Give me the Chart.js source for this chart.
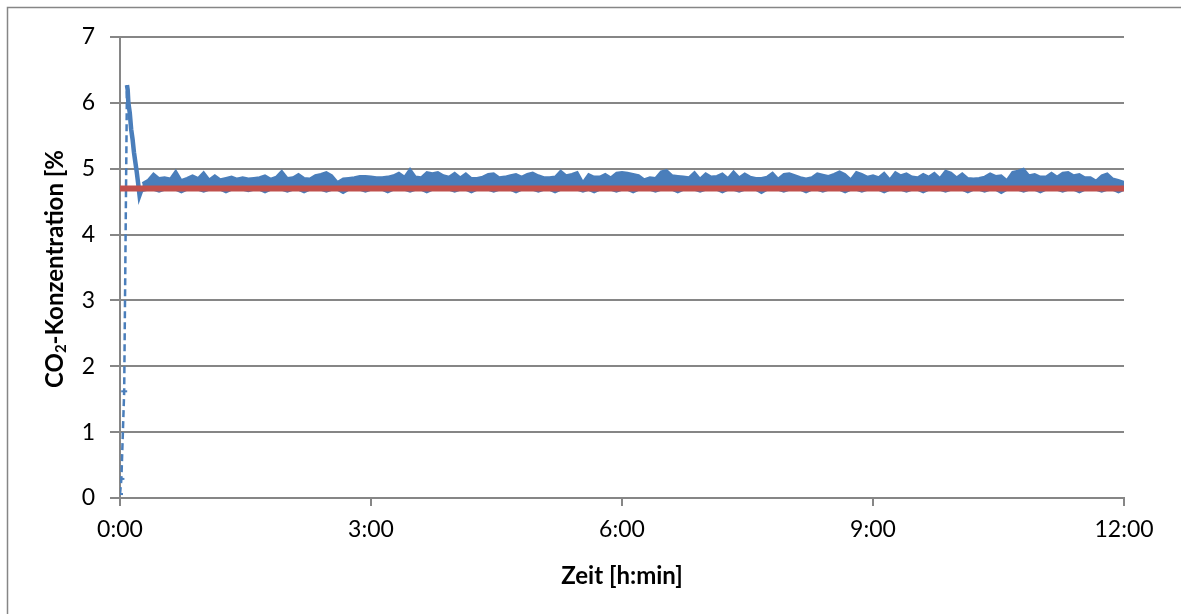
<!DOCTYPE html>
<html>
<head>
<meta charset="utf-8">
<script src="https://cdn.jsdelivr.net/npm/chart.js@4.4.1/dist/chart.umd.min.js"></script>
<style>
  html, body { margin: 0; padding: 0; background: #fff; }
  canvas { display: block; }
</style>
</head>
<body>
<canvas id="c" width="1181" height="614"></canvas>
<script>
// start-up phase: minutes and CO2 %
const startMin = [0, 1, 3, 5, 5.5, 6, 7, 8, 9, 10, 11, 12, 13, 14, 16];
const startVal = [0.06, 0.29, 1.62, 6.27, 6.2, 6.0, 5.85, 5.6, 5.45, 5.25, 5.1, 4.95, 4.78, 4.6, 4.72];

// steady phase, one reading every 4 min from 0:16 to 12:00 (upper / lower edge of the noisy trace)
const bandStart = 16, bandStep = 4;
const bandHigh = [
  4.78,4.83,4.93,4.86,4.87,4.85,4.97,4.83,4.86,4.90,4.86,4.95,4.84,4.90,4.84,4.86,4.88,4.85,4.87,4.85,
  4.86,4.87,4.90,4.85,4.88,4.97,4.86,4.87,
  4.92,4.86,4.85,4.90,4.92,4.95,4.90,4.80,4.85,4.86,4.87,4.89,4.89,4.88,4.87,4.87,4.88,4.90,4.94,4.88,
  5.00,4.88,4.87,4.95,4.93,4.95,4.90,4.88,4.94,4.87,4.93,4.86,4.86,4.88,4.92,4.93,4.87,4.88,4.90,4.92,
  4.88,4.92,4.94,4.90,4.87,4.87,4.88,4.97,4.90,4.92,4.95,4.80,4.92,
  4.88,4.88,4.92,4.87,4.94,4.95,4.94,4.92,4.90,4.84,4.87,4.86,4.96,4.98,4.90,4.89,4.88,4.87,4.95,4.85,
  4.93,4.88,4.89,4.93,4.86,4.96,4.87,4.93,4.88,4.86,4.86,4.88,4.94,4.85,4.92,4.93,4.90,4.87,4.85,4.87,
  4.93,4.91,4.89,4.92,4.96,4.92,4.84,4.95,4.92,4.88,
  4.90,4.87,4.94,4.84,4.95,4.90,4.93,4.88,4.87,4.92,4.88,4.94,4.86,4.97,4.94,4.87,4.93,4.86,4.85,4.86,
  4.88,4.93,4.89,4.90,4.83,4.95,4.97,5.00,4.90,4.92,4.88,4.88,4.94,4.88,4.94,4.95,4.90,4.92,4.87,4.87,
  4.82,4.90,4.93,4.85,4.83,4.80
];
const bandLow = [
  4.66,4.68,4.68,4.65,4.68,4.68,4.68,4.64,4.68,4.68,
  4.68,4.65,4.68,4.68,4.68,4.64,4.68,4.68,4.68,4.66,
  4.68,4.68,4.64,4.68,4.68,4.68,4.65,4.68,4.68,4.64,
  4.68,4.68,4.68,4.65,4.68,4.68,4.63,4.68,4.68,4.68,
  4.65,4.68,4.68,4.68,4.64,4.68,4.68,4.68,4.65,4.68,
  4.68,4.64,4.68,4.68,4.68,4.68,4.65,4.68,4.68,4.64,
  4.68,4.68,4.68,4.65,4.68,4.68,4.68,4.64,4.68,4.68,
  4.68,4.65,4.68,4.68,4.64,4.68,4.68,4.68,4.68,4.65,
  4.68,4.64,4.68,4.68,4.68,4.65,4.68,4.68,4.64,4.68,
  4.68,4.68,4.65,4.68,4.68,4.68,4.64,4.68,4.68,4.68,
  4.65,4.68,4.68,4.68,4.64,4.68,4.68,4.65,4.68,4.68,
  4.68,4.63,4.68,4.68,4.68,4.65,4.68,4.68,4.68,4.64,
  4.68,4.68,4.65,4.68,4.68,4.68,4.64,4.68,4.68,4.65,
  4.68,4.68,4.68,4.64,4.68,4.68,4.68,4.65,4.68,4.68,
  4.64,4.68,4.68,4.68,4.65,4.68,4.68,4.68,4.64,4.68,
  4.68,4.65,4.68,4.68,4.63,4.68,4.68,4.68,4.65,4.68,
  4.68,4.64,4.68,4.68,4.68,4.65,4.68,4.68,4.64,4.68,
  4.68,4.68,4.65,4.68,4.68,4.64,4.68
];

// set point
const refMin = [0, 720];
const refVal = [4.7, 4.7];

const xTicks = [0, 180, 360, 540, 720];

const BLUE = '#4a7ebb';
const RED = '#c0504d';
const GRID = '#868686';
const FONT = 'Lato, "Open Sans", sans-serif';

const pts = (xs, ys) => xs.map((x, i) => ({ x, y: ys[i] }));
const bandMin = bandHigh.map((_, i) => bandStart + i * bandStep);
const hm = v => Math.floor(v / 60) + ':' + String(v % 60).padStart(2, '0');

const frame = {
  id: 'frame',
  beforeDraw(chart) {
    const ctx = chart.ctx;
    ctx.save();
    ctx.fillStyle = '#fff';
    ctx.fillRect(0, 0, chart.width, chart.height);
    ctx.restore();
  },
  afterDraw(chart) {
    const ctx = chart.ctx;
    const a = chart.chartArea;
    ctx.save();
    // outer chart border (only left and top are inside the picture)
    ctx.strokeStyle = GRID;
    ctx.lineWidth = 1.5;
    ctx.beginPath();
    ctx.moveTo(7.5, chart.height);
    ctx.lineTo(7.5, 7.5);
    ctx.lineTo(chart.width, 7.5);
    ctx.stroke();

    ctx.fillStyle = '#000';
    // x title
    ctx.font = 'bold 24px ' + FONT;
    ctx.textAlign = 'center';
    ctx.textBaseline = 'middle';
    ctx.fillText('Zeit [h:min]', (a.left + a.right) / 2, 576);

    // y title with subscript
    ctx.translate(55, 388);
    ctx.rotate(-Math.PI / 2);
    ctx.textAlign = 'left';
    ctx.textBaseline = 'middle';
    ctx.font = 'bold 24px ' + FONT;
    let x = 0;
    ctx.fillText('CO', x, 0);
    x += ctx.measureText('CO').width;
    ctx.font = 'bold 15px ' + FONT;
    ctx.fillText('2', x, 6);
    x += ctx.measureText('2').width;
    ctx.font = 'bold 24px ' + FONT;
    ctx.fillText('-Konzentration [%', x, 0);
    ctx.restore();
  }
};

new Chart(document.getElementById('c'), {
  type: 'line',
  data: {
    datasets: [
      {
        label: 'Sollwert',
        data: pts(refMin, refVal),
        borderColor: RED,
        borderWidth: 6,
        pointRadius: 0,
        fill: false
      },
      {
        label: 'Anlauf',
        data: pts(startMin, startVal),
        borderColor: BLUE,
        borderWidth: 2.5,
        pointRadius: ctx => (ctx.parsed && ctx.parsed.x < 5 ? 3 : 0),
        pointStyle: 'line',
        pointBorderColor: BLUE,
        pointBorderWidth: 2,
        fill: false,
        segment: {
          borderDash: ctx => (ctx.p0.parsed.x < 5 ? [7, 4] : undefined),
          borderWidth: ctx => (ctx.p0.parsed.x < 5 ? 2.5 : 4.5)
        }
      },
      {
        label: 'CO2 oben',
        data: pts(bandMin, bandHigh),
        borderColor: BLUE,
        backgroundColor: BLUE,
        borderWidth: 2,
        pointRadius: 0,
        fill: '+1'
      },
      {
        label: 'CO2 unten',
        data: pts(bandMin, bandLow),
        borderColor: BLUE,
        borderWidth: 2,
        pointRadius: 0,
        fill: false
      }
    ]
  },
  options: {
    responsive: false,
    animation: false,
    layout: { padding: { top: 37, right: 57, left: 0, bottom: 0 } },
    plugins: { legend: { display: false }, tooltip: { enabled: false } },
    scales: {
      x: {
        type: 'linear',
        min: 0,
        max: 720,
        afterBuildTicks: s => { s.ticks = xTicks.map(v => ({ value: v })); },
        afterFit: s => { s.height = 116; },
        ticks: {
          callback: v => hm(v),
          color: '#000',
          font: { family: FONT, size: 23 },
          padding: 10,
          maxRotation: 0,
          autoSkip: false
        },
        grid: { drawOnChartArea: false, drawTicks: true, tickLength: 8, color: GRID, lineWidth: 2 },
        border: { color: GRID, width: 2 }
      },
      y: {
        min: 0,
        max: 7,
        afterFit: s => { s.width = 120; },
        ticks: {
          stepSize: 1,
          color: '#000',
          font: { family: FONT, size: 23 },
          padding: 15
        },
        grid: { color: GRID, lineWidth: 2, tickLength: 10 },
        border: { color: GRID, width: 2 }
      }
    }
  },
  plugins: [frame]
});
</script>
</body>
</html>
